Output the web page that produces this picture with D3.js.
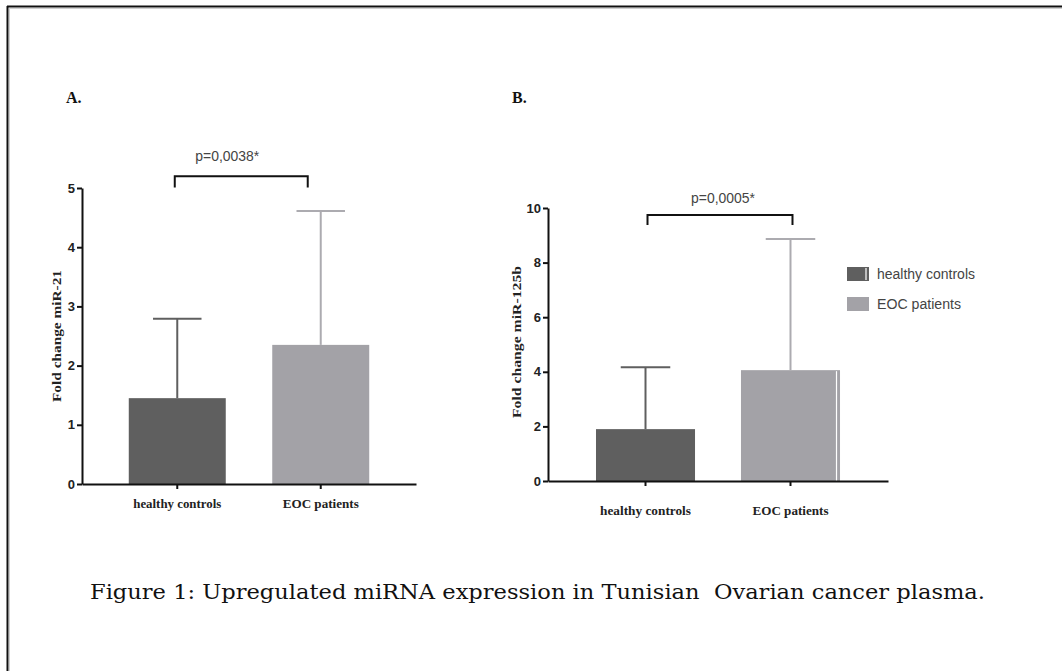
<!DOCTYPE html>
<html>
<head>
<meta charset="utf-8">
<script src="https://cdn.jsdelivr.net/npm/d3@7"></script>
<style>
  html, body { margin: 0; padding: 0; background: #fff; }
  svg { display: block; }
</style>
</head>
<body>
<svg id="fig"></svg>
<script>
// values
const categories = ['healthy controls', 'EOC patients'];

const meanA = [1.45, 2.35];
const sdA = [1.34, 2.26];
const ticksA = [0, 1, 2, 3, 4, 5];
const pA = 'p=0,0038*';

const meanB = [1.9, 4.06];
const sdB = [2.27, 4.8];
const ticksB = [0, 2, 4, 6, 8, 10];
const pB = 'p=0,0005*';

const caption = 'Figure 1: Upregulated miRNA expression in Tunisian  Ovarian cancer plasma.';

const W = 1062, H = 671;
const barColors = ['#5f5f5f', '#a3a2a7'];
const errColors = ['#5f5f5f', '#acabb0'];

const svg = d3.select('#fig').attr('width', W).attr('height', H);
svg.append('rect').attr('width', W).attr('height', H).attr('fill', '#fff');

// page frame (only top & left show)
svg.append('line').attr('x1', 7).attr('x2', W).attr('y1', 6.5).attr('y2', 6.5)
  .attr('stroke', '#111').attr('stroke-width', 2);
svg.append('line').attr('x1', 7.5).attr('x2', 7.5).attr('y1', 6).attr('y2', H)
  .attr('stroke', '#111').attr('stroke-width', 2);
svg.append('line').attr('x1', 9).attr('x2', W).attr('y1', 8.5).attr('y2', 8.5)
  .attr('stroke', '#d0d0d0').attr('stroke-width', 1);
svg.append('line').attr('x1', 9.5).attr('x2', 9.5).attr('y1', 9).attr('y2', H)
  .attr('stroke', '#d0d0d0').attr('stroke-width', 1);

const serif = '"Liberation Serif", "Times New Roman", serif';
const narrow = '"Liberation Sans Narrow", "Liberation Sans", Arial, sans-serif';

function panel(cfg) {
  const x = d3.scaleBand().domain(categories)
    .range(cfg.xRange).paddingInner(cfg.pi).paddingOuter(cfg.po);
  const y = d3.scaleLinear().domain(cfg.yDomain).range(cfg.yRange);
  const g = svg.append('g');

  // bars
  g.selectAll('rect.bar').data(cfg.mean).enter().append('rect')
    .attr('class', 'bar')
    .attr('x', (d, i) => x(categories[i]))
    .attr('y', d => y(d))
    .attr('width', x.bandwidth())
    .attr('height', d => y(0) - y(d))
    .attr('fill', (d, i) => barColors[i]);

  if (cfg.whiteSlit) {
    const i = 1;
    g.append('line')
      .attr('x1', x(categories[i]) + x.bandwidth() - 3.5)
      .attr('x2', x(categories[i]) + x.bandwidth() - 3.5)
      .attr('y1', y(cfg.mean[i]) + 1).attr('y2', y(0))
      .attr('stroke', '#fff').attr('stroke-width', 1.2);
  }

  // error bars (upper only)
  const cx = i => x(categories[i]) + x.bandwidth() / 2;
  cfg.mean.forEach((m, i) => {
    const top = y(m + cfg.sd[i]);
    g.append('line').attr('x1', cx(i)).attr('x2', cx(i))
      .attr('y1', y(m)).attr('y2', top)
      .attr('stroke', errColors[i]).attr('stroke-width', 2);
    g.append('line').attr('x1', cx(i) - x.bandwidth() / 4).attr('x2', cx(i) + x.bandwidth() / 4)
      .attr('y1', top).attr('y2', top)
      .attr('stroke', errColors[i]).attr('stroke-width', 2);
  });

  // axes
  const yAxis = g.append('g')
    .attr('transform', 'translate(' + cfg.xRange[0] + ',0)')
    .call(d3.axisLeft(y).tickValues(cfg.ticks).tickFormat(d3.format('d'))
      .tickSize(5).tickPadding(2).tickSizeOuter(0));
  yAxis.selectAll('path, line').attr('stroke', '#111').attr('stroke-width', 2);
  yAxis.selectAll('text').attr('font-family', narrow).attr('font-weight', 'bold')
    .attr('font-size', 13).attr('fill', '#222');

  const xAxis = g.append('g')
    .attr('transform', 'translate(0,' + y(0) + ')')
    .call(d3.axisBottom(x).tickSize(5).tickSizeOuter(0).tickFormat(''));
  xAxis.selectAll('path, line').attr('stroke', '#111').attr('stroke-width', 2);

  // category labels
  g.selectAll('text.cat').data(categories).enter().append('text')
    .attr('class', 'cat')
    .attr('x', d => x(d) + x.bandwidth() / 2)
    .attr('y', y(0) + cfg.catGap)
    .attr('text-anchor', 'middle')
    .attr('font-family', serif).attr('font-weight', 'bold').attr('font-size', 13)
    .attr('fill', '#222')
    .attr('textLength', (d, i) => cfg.catLen[i])
    .attr('lengthAdjust', 'spacingAndGlyphs')
    .text(d => d);

  // y title
  g.append('text')
    .attr('transform', 'translate(' + cfg.titleX + ',' + cfg.titleY + ') rotate(-90)')
    .attr('text-anchor', 'middle')
    .attr('font-family', serif).attr('font-weight', 'bold').attr('font-size', 13)
    .attr('fill', '#222')
    .attr('textLength', cfg.titleLen).attr('lengthAdjust', 'spacingAndGlyphs')
    .text(cfg.title);

  // significance bracket
  const bx1 = cx(0) + cfg.br[0], bx2 = cx(1) + cfg.br[1];
  const by = y(cfg.brY[0]), leg = y(cfg.brY[1]);
  g.append('path')
    .attr('d', 'M' + bx1 + ',' + leg + 'V' + by + 'H' + bx2 + 'V' + leg)
    .attr('fill', 'none').attr('stroke', '#111').attr('stroke-width', 2);
  g.append('text')
    .attr('x', (bx1 + bx2) / 2 + cfg.pDx).attr('y', by - cfg.pGap)
    .attr('text-anchor', 'middle')
    .attr('font-family', narrow).attr('font-size', 14).attr('fill', '#444')
    .attr('textLength', 64).attr('lengthAdjust', 'spacingAndGlyphs')
    .text(cfg.p);

  // panel letter
  g.append('text')
    .attr('x', cfg.letterX).attr('y', 103)
    .attr('font-family', serif).attr('font-weight', 'bold').attr('font-size', 16)
    .attr('fill', '#111')
    .text(cfg.letter);
}

panel({
  letter: 'A.', letterX: 66,
  mean: meanA, sd: sdA, ticks: ticksA, p: pA,
  xRange: [82, 416], pi: 0.324, po: 0.326,
  yDomain: [0, 5], yRange: [484, 188],
  catGap: 24, catLen: [88, 76],
  title: 'Fold change miR-21', titleX: 61, titleY: 336, titleLen: 132,
  br: [-2.5, -13], brY: [5.2, 5.01], pDx: -14, pGap: 15,
  whiteSlit: false
});

panel({
  letter: 'B.', letterX: 512,
  mean: meanB, sd: sdB, ticks: ticksB, p: pB,
  xRange: [548, 888], pi: 0.317, po: 0.331,
  yDomain: [0, 10], yRange: [481, 208],
  catGap: 34, catLen: [91, 76],
  title: 'Fold change miR-125b', titleX: 521, titleY: 342, titleLen: 152,
  br: [2, 2], brY: [9.74, 9.38], pDx: 3, pGap: 12,
  whiteSlit: true
});

// legend
const legend = svg.append('g').attr('transform', 'translate(847,267)');
categories.forEach((c, i) => {
  const row = legend.append('g').attr('transform', 'translate(0,' + i * 30 + ')');
  row.append('rect').attr('width', 22).attr('height', 14).attr('fill', barColors[i]);
  if (i === 0) {
    row.append('line').attr('x1', 19).attr('x2', 19).attr('y1', 1).attr('y2', 13)
      .attr('stroke', '#fff').attr('stroke-width', 1.2);
  }
  row.append('text').attr('x', 30).attr('y', 12)
    .attr('font-family', narrow).attr('font-size', 14).attr('fill', '#444')
    .attr('textLength', i === 0 ? 98 : 84).attr('lengthAdjust', 'spacingAndGlyphs')
    .text(c);
});

// caption
svg.append('text')
  .attr('x', 90).attr('y', 599)
  .attr('font-family', '"DejaVu Serif", serif').attr('font-size', 20)
  .attr('fill', '#111')
  .attr('textLength', 895).attr('lengthAdjust', 'spacingAndGlyphs')
  .attr('xml:space', 'preserve')
  .text(caption);
</script>
</body>
</html>
